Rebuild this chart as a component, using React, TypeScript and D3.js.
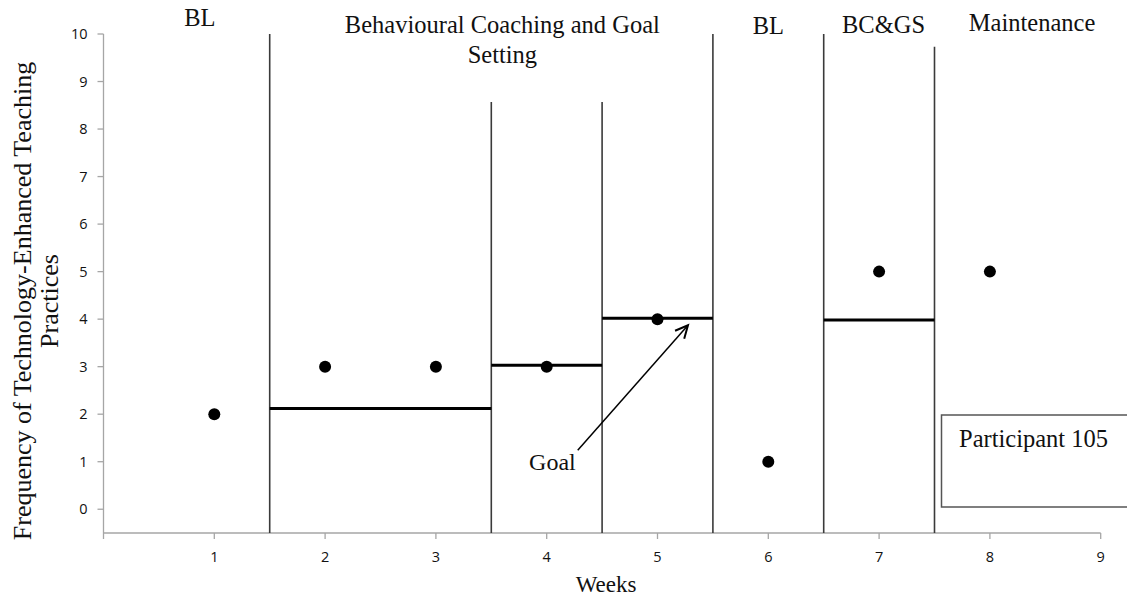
import React from "react";
import * as d3 from "d3";

const weeks = [1, 2, 3, 4, 5, 6, 7, 8];
const practiceCounts = [2, 3, 3, 3, 4, 1, 5, 5];
const xTicks = [1, 2, 3, 4, 5, 6, 7, 8, 9];
const yTicks = [0, 1, 2, 3, 4, 5, 6, 7, 8, 9, 10];
const phaseChanges = [1.5, 3.5, 4.5, 5.5, 6.5, 7.5];
const phaseLineTops = [10, 8.57, 8.57, 10, 10, 9.73];
const goalStarts = [1.5, 3.5, 4.5, 6.5];
const goalEnds = [3.5, 4.5, 5.5, 7.5];
const goalLevels = [2.12, 3.03, 4.02, 3.98];
const phaseLabels = ["BL", "Behavioural Coaching and Goal|Setting", "BL", "BC&GS", "Maintenance"];
const phaseLabelX = [0.87, 3.6, 6, 7.04, 8.38];
const phaseLabelBaseY = [26, 33, 34, 33, 31];

const W = 1127;
const H = 598;
const serif = "'Liberation Serif', 'Times New Roman', serif";
const sans = "'Open Sans', 'Liberation Sans', sans-serif";

export default function App() {
  const x = d3.scaleLinear().domain([0, 9]).range([103.5, 1100.7]);
  const y = d3.scaleLinear().domain([-0.5, 10]).range([533, 34]);
  const axisColor = "#a6a6a6";

  // arrow from "Goal" label to the week-5 goal line
  const tail = [4.28, 1.24];
  const head = [5.275, 3.87];
  const hx = x(head[0]);
  const hy = y(head[1]);
  const tx = x(tail[0]);
  const ty = y(tail[1]);
  const ang = Math.atan2(hy - ty, hx - tx);
  const al = 14;
  const aw = 0.45;
  const a1 = [hx - al * Math.cos(ang - aw), hy - al * Math.sin(ang - aw)];
  const a2 = [hx - al * Math.cos(ang + aw), hy - al * Math.sin(ang + aw)];

  return (
    <div style={{ position: "absolute", left: 0, top: 0 }}>
      <svg width={W} height={H} style={{ display: "block", background: "#fff" }}>
        {/* axes */}
        <line x1={x(0)} x2={x(0)} y1={y(10)} y2={y(-0.5)} stroke={axisColor} strokeWidth={1.3} />
        <line x1={x(0)} x2={x(9)} y1={y(-0.5)} y2={y(-0.5)} stroke={axisColor} strokeWidth={1.3} />
        {yTicks.map((t) => (
          <g key={"yt" + t}>
            <line x1={x(0) - 6} x2={x(0)} y1={y(t)} y2={y(t)} stroke={axisColor} strokeWidth={1.3} />
            <text x={x(0) - 16} y={y(t)} dy="0.35em" textAnchor="end" fontFamily={sans} fontSize={14.5} fill="#111">
              {t}
            </text>
          </g>
        ))}
        <line x1={x(0)} x2={x(0)} y1={y(-0.5)} y2={y(-0.5) + 6} stroke={axisColor} strokeWidth={1.3} />
        {xTicks.map((t) => (
          <g key={"xt" + t}>
            <line x1={x(t)} x2={x(t)} y1={y(-0.5)} y2={y(-0.5) + 6} stroke={axisColor} strokeWidth={1.3} />
            <text x={x(t)} y={y(-0.5) + 24} dy="0.35em" textAnchor="middle" fontFamily={sans} fontSize={14.5} fill="#111">
              {t}
            </text>
          </g>
        ))}

        {/* phase change lines */}
        {phaseChanges.map((p, i) => (
          <line key={"pc" + i} x1={x(p)} x2={x(p)} y1={y(phaseLineTops[i])} y2={y(-0.5)} stroke="#3a3a3a" strokeWidth={1.6} />
        ))}

        {/* goal lines */}
        {goalLevels.map((g, i) => (
          <line key={"gl" + i} x1={x(goalStarts[i])} x2={x(goalEnds[i])} y1={y(g)} y2={y(g)} stroke="#000" strokeWidth={3} />
        ))}

        {/* data points */}
        {weeks.map((w, i) => (
          <circle key={"pt" + w} cx={x(w)} cy={y(practiceCounts[i])} r={6} fill="#000" />
        ))}

        {/* phase labels */}
        {phaseLabels.map((lab, i) =>
          lab.split("|").map((line, j) => (
            <text
              key={"pl" + i + "-" + j}
              x={x(phaseLabelX[i])}
              y={phaseLabelBaseY[i] + j * 30}
              textAnchor="middle"
              fontFamily={serif}
              fontSize={24.5}
              fill="#111"
            >
              {line}
            </text>
          ))
        )}

        {/* goal annotation */}
        <line x1={tx} y1={ty} x2={hx} y2={hy} stroke="#000" strokeWidth={1.5} />
        <path d={`M${a1[0]},${a1[1]} L${hx},${hy} L${a2[0]},${a2[1]}`} fill="none" stroke="#000" strokeWidth={2} />
        <text x={tx - 2} y={ty + 20} textAnchor="end" fontFamily={serif} fontSize={24} fill="#111">
          Goal
        </text>

        {/* participant box */}
        <rect x={941.5} y={415} width={W - 941.5 + 2} height={92} fill="#fff" stroke="#555" strokeWidth={1.5} />
        <text x={959} y={447} fontFamily={serif} fontSize={24.5} fill="#111">
          Participant 105
        </text>

        {/* axis titles */}
        <text
          transform={`translate(22, 301) rotate(-90)`}
          textAnchor="middle"
          dy="0.35em"
          fontFamily={serif}
          fontSize={26}
          fill="#111"
        >
          Frequency of Technology-Enhanced Teaching
        </text>
        <text
          transform={`translate(49, 301) rotate(-90)`}
          textAnchor="middle"
          dy="0.35em"
          fontFamily={serif}
          fontSize={26}
          fill="#111"
        >
          Practices
        </text>
        <text x={606} y={592} textAnchor="middle" fontFamily={serif} fontSize={23} fill="#111">
          Weeks
        </text>
      </svg>
    </div>
  );
}
